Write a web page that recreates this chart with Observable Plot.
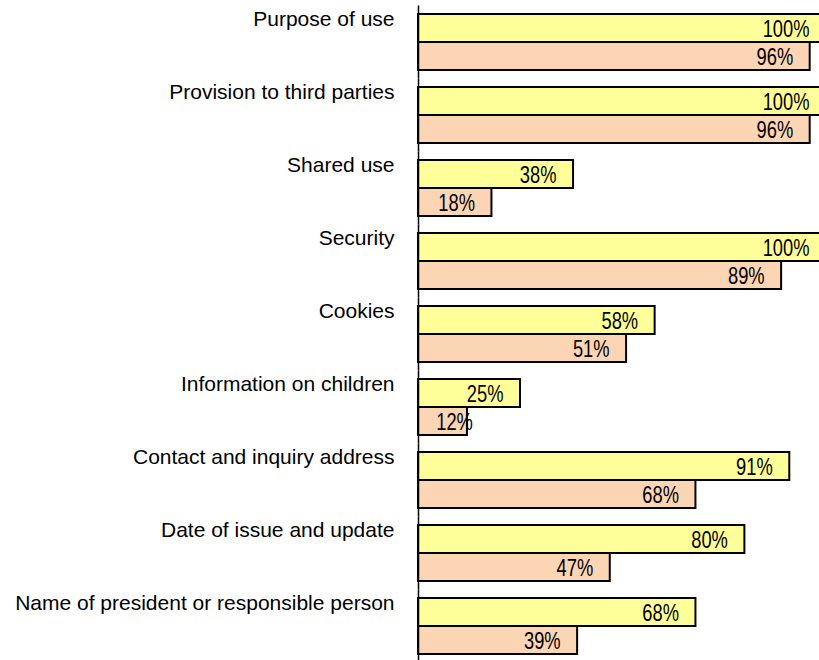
<!DOCTYPE html>
<html>
<head>
<meta charset="utf-8">
<script src="https://cdn.jsdelivr.net/npm/d3@7"></script>
<script src="https://cdn.jsdelivr.net/npm/@observablehq/plot@0.6"></script>
<style>
  html, body { margin: 0; padding: 0; background: white; overflow: hidden; }
</style>
</head>
<body>
<div id="chart"></div>
<script>
const categories = [
  "Purpose of use",
  "Provision to third parties",
  "Shared use",
  "Security",
  "Cookies",
  "Information on children",
  "Contact and inquiry address",
  "Date of issue and update",
  "Name of president or responsible person"
];
const seriesNames = ["Series 1", "Series 2"];
const series1 = [100, 100, 38, 100, 58, 25, 91, 80, 68];
const series2 = [96, 96, 18, 89, 51, 12, 68, 47, 39];
const colors = ["#FFFF99", "#FCD5B4"];

const data = categories.flatMap((c, i) => [
  {category: c, series: seriesNames[0], value: series1[i]},
  {category: c, series: seriesNames[1], value: series2[i]}
]);

const chart = Plot.plot({
  width: 819,
  height: 660,
  marginLeft: 418,
  marginRight: 0,
  marginTop: 13,
  marginBottom: 5,
  x: {domain: [0, 100], range: [418, 826], axis: null},
  y: {domain: seriesNames, padding: 0, axis: null},
  fy: {domain: categories, paddingInner: 0.227, paddingOuter: 0, axis: null},
  color: {domain: seriesNames, range: colors},
  marks: [
    Plot.barX(data, {x: "value", y: "series", fy: "category", fill: "series", stroke: "black", strokeWidth: 2}),
    Plot.text(data, {
      x: d => Math.max(d.value, 17.5), y: "series", fy: "category",
      text: d => d.value + "%", textAnchor: "end", dx: -17, dy: 1,
      fontSize: 23.5, fontFamily: "'Liberation Sans', Arial, sans-serif",
      fill: "black", className: "value-label"
    }),
    Plot.ruleX([0], {insetTop: -8.5, insetBottom: -8.5, stroke: "black", strokeWidth: 1.5}),
    Plot.axisFy({
      anchor: "left", tickSize: 0, tickPadding: 24, dy: -23, label: null,
      fontSize: 21, fontFamily: "'Liberation Sans', Arial, sans-serif", fill: "black"
    })
  ]
});
// narrow the value labels horizontally (condensed look of the original)
d3.select(chart).selectAll(".value-label text").each(function() {
  const t = this.getAttribute("transform") || "";
  if (!t.includes("scale")) this.setAttribute("transform", t + " scale(0.78,1)");
});
document.getElementById("chart").appendChild(chart);
</script>
</body>
</html>
